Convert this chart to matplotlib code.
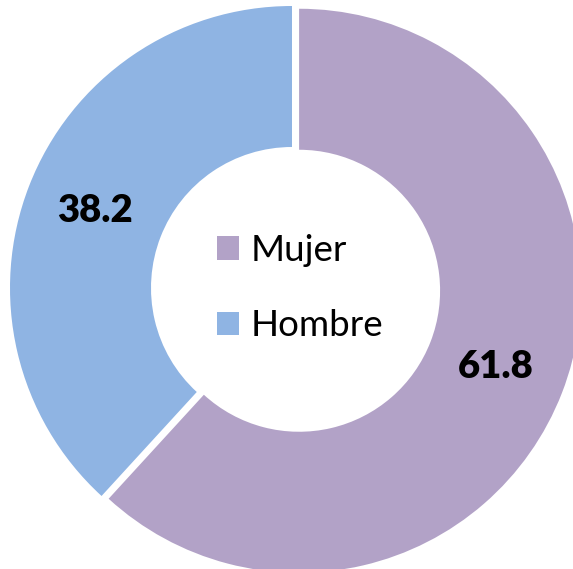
import matplotlib
matplotlib.use("Agg")
import matplotlib.pyplot as plt

categories = ["Mujer", "Hombre"]
values = [61.8, 38.2]
colors = ["#B2A2C7", "#8FB4E3"]

plt.rcParams['font.family'] = ['Lato', 'DejaVu Sans']

fig = plt.figure(figsize=(5.73, 5.69), dpi=100)
ax = fig.add_axes([0, 0, 1, 1])

wedges, texts, autotexts = ax.pie(
    values, colors=colors, startangle=90, counterclock=False,
    explode=[0.027, 0], radius=1.0,
    wedgeprops=dict(width=0.5, linewidth=0),
    autopct='%.1f', pctdistance=0.75,
    textprops=dict(fontsize=27.5, fontweight='heavy', color='black'))

ax.set_xlim(-292 / 282, (573 - 292) / 282)
ax.set_ylim(-(569 - 288) / 282, 288 / 282)
ax.set_aspect('auto')
ax.axis('off')

leg = ax.legend(wedges, categories, loc='center',
                bbox_to_anchor=(300 / 573, 1 - 288 / 569),
                bbox_transform=fig.transFigure,
                frameon=False, fontsize=26.5,
                handlelength=0.6, handleheight=0.6,
                handletextpad=0.3, labelspacing=1.15)

fig.savefig("out.png", dpi=100)
